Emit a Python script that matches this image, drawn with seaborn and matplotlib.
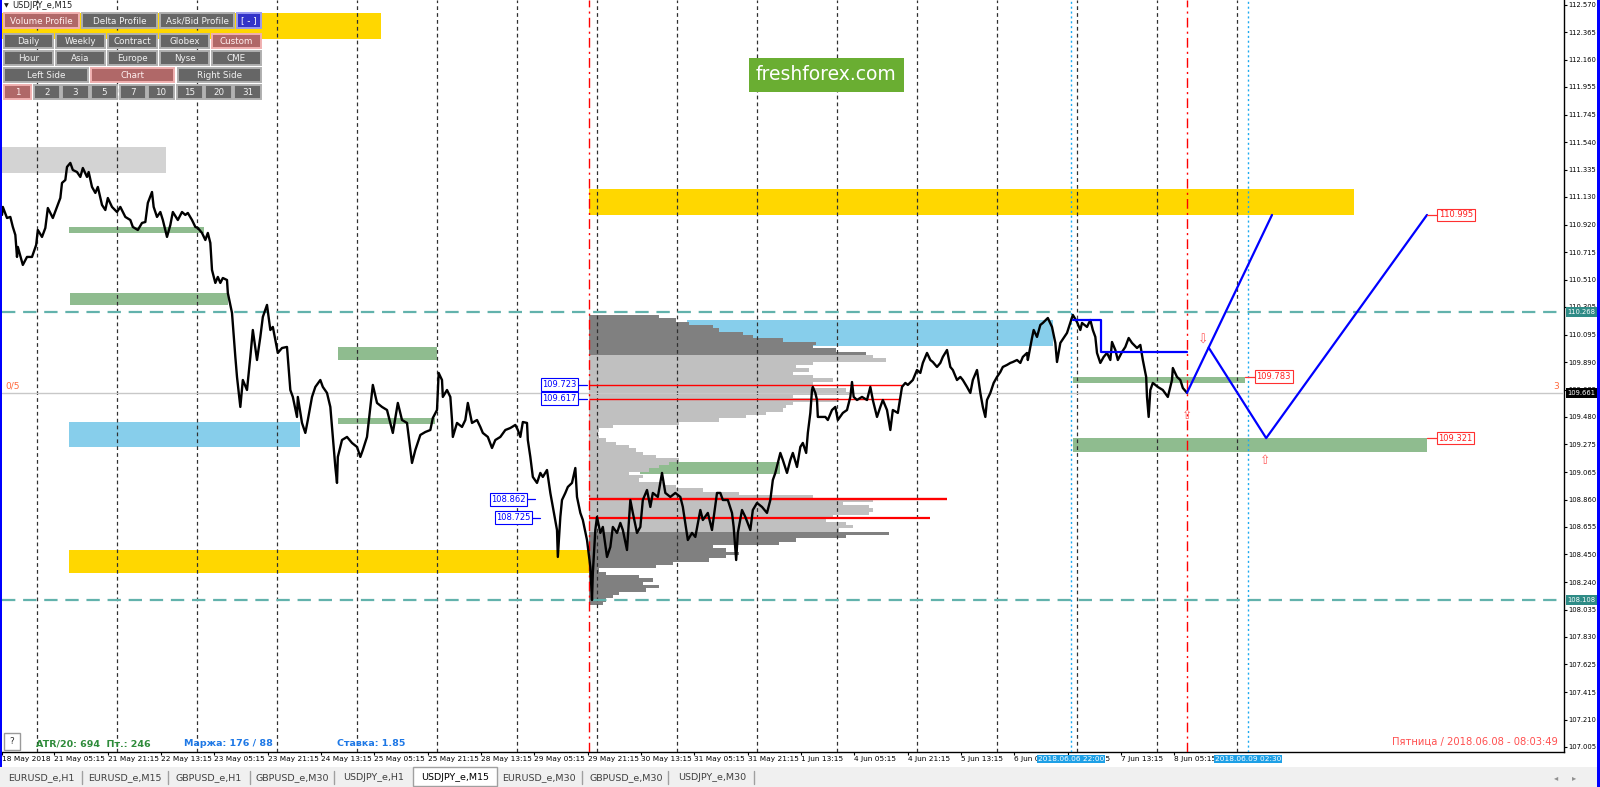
import numpy as np
import matplotlib
matplotlib.use("Agg")
import matplotlib.pyplot as plt
import seaborn as sns
from matplotlib.patches import Rectangle
from matplotlib.lines import Line2D
from matplotlib.transforms import blended_transform_factory

W, H = 1600, 787

# ---------------- price path (bar index of M15 bars, price) ----------------
seg1_bar = [0, 1, 6, 10, 13, 16, 18, 19, 25, 30, 36, 41, 43, 48, 52, 55, 61, 66, 70, 72,
            76, 78, 82, 85, 90, 94, 97, 102, 104, 108, 112, 115, 120, 124, 127, 132, 138, 142, 148, 154,
            157, 163, 168, 172, 175, 180, 182, 186, 190, 193, 198, 202, 205, 211, 216, 220, 223, 228, 232, 235,
            240, 244, 247, 250]
seg1_px = [110.995, 111.055, 110.972, 110.980, 110.905, 110.845, 110.680, 110.755, 110.620, 110.680,
           110.680, 110.770, 110.882, 110.830, 110.897, 111.047, 110.972, 111.055, 111.122, 111.235,
           111.257, 111.355, 111.385, 111.332, 111.317, 111.280, 111.347, 111.280, 111.317, 111.205,
           111.160, 111.205, 111.070, 111.032, 111.122, 111.055, 111.017, 111.055, 110.980, 110.957,
           110.905, 110.882, 110.935, 110.942, 111.085, 111.167, 111.055, 110.980, 111.017, 110.957,
           110.830, 110.920, 111.017, 110.957, 111.017, 110.995, 111.010, 110.957, 110.905, 110.897,
           110.860, 110.807, 110.860, 110.785]
seg2_bar = [252, 256, 259, 262, 265, 270, 271, 276, 280, 282, 286, 289, 294, 298, 301, 306, 310, 313, 318, 322,
            325, 331, 336, 342, 346, 349, 354, 355, 360, 364, 367, 372, 376, 382, 385, 390, 394, 397, 400, 402,
            403, 408, 414, 420, 426, 430, 433, 438, 442, 445, 450, 456, 462, 466, 469, 475, 480, 486, 492, 496]
seg2_px = [110.582, 110.485, 110.530, 110.485, 110.522, 110.507, 110.410, 110.260, 109.930, 109.780,
           109.555, 109.757, 109.682, 109.930, 110.132, 109.907, 110.080, 110.230, 110.320, 110.132,
           110.155, 109.960, 109.997, 110.005, 109.682, 109.630, 109.480, 109.630, 109.435, 109.360,
           109.457, 109.630, 109.705, 109.757, 109.705, 109.660, 109.555, 109.330, 109.105, 108.985,
           109.180, 109.307, 109.330, 109.285, 109.255, 109.180, 109.232, 109.330, 109.555, 109.720,
           109.585, 109.555, 109.532, 109.435, 109.360, 109.585, 109.457, 109.435, 109.135, 109.232]
seg3_bar = [502, 508, 514, 517, 522, 524, 528, 529, 534, 538, 540, 541, 546, 552, 556, 559, 564, 570, 574, 577,
            583, 588, 592, 598, 604, 610, 616, 619, 622, 625, 630, 631, 634, 637, 642, 646, 649, 654, 658, 661,
            666, 667, 670, 672, 676, 679, 684, 688, 690, 694, 697, 702, 706, 708, 709, 712]
seg3_px = [109.345, 109.367, 109.382, 109.472, 109.532, 109.810, 109.757, 109.630, 109.682, 109.630,
           109.457, 109.330, 109.435, 109.405, 109.457, 109.585, 109.435, 109.457, 109.405, 109.360,
           109.330, 109.247, 109.307, 109.330, 109.382, 109.397, 109.420, 109.382, 109.330, 109.442,
           109.435, 109.307, 109.180, 109.030, 108.985, 109.060, 109.030, 109.082, 108.910, 108.805,
           108.632, 108.430, 108.730, 108.857, 108.910, 108.955, 108.985, 109.097, 108.880, 108.760,
           108.707, 108.557, 108.355, 108.107, 108.310, 108.632]
seg4_bar = [714, 718, 721, 726, 730, 733, 738, 742, 745, 750, 754, 757, 762, 766, 769, 774, 778, 781, 787, 792,
            796, 802, 808, 814, 817, 823, 828, 832, 838, 841, 847, 852, 858, 862, 865, 871, 876, 878, 881, 883,
            888, 892, 898, 901, 906, 912, 918, 922, 925, 928, 931, 934, 937, 942, 946, 949, 954, 958, 961, 965,
            967, 970, 972, 973, 976, 978, 979, 984, 988, 991, 996, 1000, 1003, 1009, 1014, 1018, 1020, 1022, 1026, 1032,
            1038, 1042, 1045, 1050, 1054, 1057, 1062, 1066, 1069, 1075, 1080, 1084, 1087, 1093, 1098, 1102, 1105, 1110, 1114, 1117,
            1122, 1126, 1129, 1134, 1138, 1141, 1146, 1150, 1153, 1158, 1162, 1165, 1170, 1174, 1177, 1180, 1182, 1186, 1190, 1194,
            1198, 1201, 1206, 1210, 1213, 1218, 1222, 1225, 1230, 1231, 1236, 1238, 1242, 1246, 1249, 1255, 1260, 1264, 1266, 1270]
seg4_px = [108.730, 108.610, 108.655, 108.430, 108.505, 108.655, 108.610, 108.685, 108.632, 108.482,
           108.857, 108.760, 108.610, 108.655, 108.857, 108.932, 108.805, 108.910, 108.880, 109.060,
           108.910, 108.880, 108.910, 108.880, 108.805, 108.557, 108.610, 108.580, 108.782, 108.707,
           108.760, 108.632, 108.910, 108.910, 108.857, 108.857, 108.760, 108.655, 108.407, 108.610,
           108.782, 108.730, 108.632, 108.782, 108.835, 108.805, 108.760, 108.857, 109.007, 109.060,
           109.135, 109.210, 109.157, 109.060, 109.157, 109.210, 109.105, 109.255, 109.285, 109.210,
           109.360, 109.510, 109.682, 109.705, 109.660, 109.607, 109.480, 109.480, 109.480, 109.457,
           109.532, 109.555, 109.457, 109.510, 109.532, 109.630, 109.742, 109.630, 109.607, 109.630,
           109.607, 109.705, 109.607, 109.480, 109.555, 109.607, 109.532, 109.382, 109.532, 109.510,
           109.705, 109.735, 109.720, 109.757, 109.832, 109.810, 109.885, 109.960, 109.907, 109.892,
           109.855, 109.885, 109.930, 109.982, 109.855, 109.832, 109.757, 109.780, 109.757, 109.705,
           109.660, 109.757, 109.832, 109.660, 109.555, 109.480, 109.607, 109.660, 109.735, 109.780,
           109.817, 109.855, 109.870, 109.885, 109.892, 109.907, 109.885, 109.930, 109.960, 109.907,
           110.072, 110.132, 110.080, 110.170, 110.185, 110.222, 110.155, 110.035, 109.892, 110.035]
seg5_bar = [1278, 1285, 1290, 1294, 1296, 1302, 1306, 1309, 1312, 1314, 1318, 1322, 1326, 1330, 1332, 1336, 1339, 1344, 1348, 1352,
            1356, 1362, 1366, 1369, 1373, 1374, 1376, 1378, 1381, 1387, 1393, 1399, 1404, 1405, 1410, 1414, 1417, 1422]
seg5_px = [110.110, 110.245, 110.192, 110.132, 110.185, 110.155, 110.207, 110.132, 110.080, 109.960,
           109.885, 109.930, 109.960, 109.907, 110.042, 109.982, 109.907, 109.967, 110.005, 110.072,
           110.035, 109.997, 110.020, 109.907, 109.780, 109.630, 109.480, 109.682, 109.735, 109.705,
           109.682, 109.630, 109.757, 109.847, 109.780, 109.757, 109.697, 109.661]

# ---------------- volume profile (from 29 May 21:30, bar 704) ----------------
profile_start = 704
profile_top = 110.232
profile_step = 0.025
profile_len = [85, 105, 121, 149, 157, 185, 197, 233, 273, 269,
               297, 333, 341, 357, 269, 249, 265, 245, 269, 293,
               269, 269, 309, 313, 245, 301, 245, 237, 233, 213,
               189, 157, 109, 29, 13, 11, 13, 21, 33, 49,
               57, 65, 81, 109, 97, 85, 73, 49, 65, 61,
               89, 105, 137, 181, 269, 341, 305, 337, 341, 337,
               293, 285, 309, 317, 301, 361, 309, 249, 229, 149,
               165, 181, 165, 145, 101, 81, 13, 21, 61, 77,
               65, 85, 69, 37, 29, 21, 17]
va_high = 109.945
va_low = 108.62

# ---------------- zones (bar from, bar to, price low, price high, kind) ----------------
zone_x0 = [0, -5, 704, 80, 81, 82, 403, 403, 766, 1285, 1285, 80, 822]
zone_x1 = [197, 455, 1622, 704, 242, 271, 522, 520, 934, 1492, 1710, 358, 1261]
zone_lo = [111.310, 112.315, 110.995, 108.310, 110.860, 110.320, 109.907, 109.427, 109.052, 109.738, 109.216, 109.255, 110.012]
zone_hi = [111.505, 112.510, 111.190, 108.482, 110.905, 110.410, 110.005, 109.472, 109.142, 109.783, 109.321, 109.442, 110.207]
zone_kind = ["gray", "yellow", "yellow", "yellow", "green", "green", "green", "green", "green", "green", "green", "blue", "blue"]
zone_color = {"gray": "#D3D3D3", "yellow": "#FFD700", "green": "#8FBC8F", "blue": "#87CEEB"}

# levels
level_teal = [110.268, 108.108]
last_price = 109.661
poc_prices = [109.723, 109.617, 108.862, 108.725]
poc_end = [1081, 1076, 1134, 1114]
poc_width = [1.0, 1.0, 1.7, 1.6]
poc_box_end = [691, 691, 630, 636]
poc_link_end = [702, 702, 640, 646]

# projections
step_x = [1285, 1319, 1319, 1422]
step_y = [110.207, 110.207, 109.967, 109.967]
zig_a_x = [1422, 1524]
zig_a_y = [109.661, 110.995]
zig_b_x = [1448, 1517, 1710]
zig_b_y = [110.000, 109.321, 110.995]
target_labels = ["110.995", "109.783", "109.321"]
target_prices = [110.995, 109.783, 109.321]
target_from = [1710, 1492, 1710]
target_box = [1723, 1504, 1722]
arrow_bar = [1441, 1422, 1516]
arrow_price = [110.057, 109.494, 109.150]
arrow_glyph = ["\u21E9", "\u21E7", "\u21E7"]

# time axis
day_sep = [42, 138, 234, 330, 426, 522, 618, 714, 810, 906, 1002, 1098, 1194, 1290, 1386, 1482]
time_ticks = [0, 63, 127, 191, 255, 319, 383, 447, 511, 575, 639, 703, 767, 831, 895, 959, 1023,
              1087, 1151, 1215, 1279, 1343, 1407]
time_labels = ["18 May 2018", "21 May 05:15", "21 May 21:15", "22 May 13:15", "23 May 05:15",
               "23 May 21:15", "24 May 13:15", "25 May 05:15", "25 May 21:15", "28 May 13:15",
               "29 May 05:15", "29 May 21:15", "30 May 13:15", "31 May 05:15", "31 May 21:15",
               "1 Jun 13:15", "4 Jun 05:15", "4 Jun 21:15", "5 Jun 13:15", "6 Jun 05:15",
               "6 Jun 21:15", "7 Jun 13:15", "8 Jun 05:15"]
red_vlines = [704, 1422]
blue_vlines = [1283, 1495]
blue_vlabels = ["2018.06.06 22:00", "2018.06.09 02:30"]
price_ticks = [112.570, 112.365, 112.160, 111.955, 111.745, 111.540, 111.335, 111.130, 110.920,
               110.715, 110.510, 110.305, 110.095, 109.890, 109.685, 109.480, 109.275, 109.065,
               108.860, 108.655, 108.450, 108.240, 108.035, 107.830, 107.625, 107.415, 107.210, 107.005]

# ---------------- figure ----------------
sns.set_theme(style="white")
plt.rcParams['font.family'] = ['DejaVu Sans']

fig = plt.figure(figsize=(16, 7.87), dpi=100)
fig.patch.set_facecolor("white")
ax = fig.add_axes([2 / W, 35 / H, 1562 / W, 752 / H])
ax.set_facecolor("white")
ax.set_xlim(0, 1874.4)
ax.set_ylim(106.967, 112.607)

for x0, x1, lo, hi, k in zip(zone_x0, zone_x1, zone_lo, zone_hi, zone_kind):
    ax.add_patch(Rectangle((x0, lo), x1 - x0, hi - lo, facecolor=zone_color[k],
                           edgecolor="none", zorder=1))

levels = profile_top - profile_step * np.arange(len(profile_len))
pcols = ["#808080" if (lv > va_high or lv < va_low) else "#C0C0C0" for lv in levels]
ax.barh(levels, profile_len, left=profile_start, height=profile_step * 0.92, color=pcols,
        linewidth=0, zorder=2)

for d in day_sep:
    ax.axvline(d, color="#303030", lw=0.9, ls=(0, (3, 2.5)), zorder=3)
for t in level_teal:
    ax.axhline(t, color="#62B2AC", lw=1.6, ls=(0, (6, 3.5)), zorder=3)
ax.axhline(last_price, color="#C8C8C8", lw=1.0, zorder=3)
for v in red_vlines:
    ax.axvline(v, color="#FF0000", lw=1.0, ls=(0, (7, 3, 1.5, 3)), zorder=4)
for v in blue_vlines:
    ax.axvline(v, color="#1EAAF0", lw=1.0, ls=(0, (1.5, 2)), zorder=4)

ax.hlines(poc_prices, profile_start, poc_end, colors="#FF0000", linewidth=poc_width, zorder=5)

price_bar = seg1_bar + seg2_bar + seg3_bar + seg4_bar + seg5_bar
price_close = seg1_px + seg2_px + seg3_px + seg4_px + seg5_px
sns.lineplot(x=price_bar, y=price_close, ax=ax, color="black", linewidth=1.7,
             estimator=None, sort=False, zorder=6, legend=False)

ax.plot(step_x, step_y, color="#0000FF", lw=1.6, zorder=7)
ax.plot(zig_a_x, zig_a_y, color="#0000FF", lw=1.6, zorder=7)
ax.plot(zig_b_x, zig_b_y, color="#0000FF", lw=1.6, zorder=7)

# boxed labels on profile levels
for p, be, le in zip(poc_prices, poc_box_end, poc_link_end):
    ax.plot([be, le], [p, p], color="#0000FF", lw=0.9, zorder=7)
    ax.text(be - 1.5, p, f"{p:.3f}", ha="right", va="center", fontsize=6, color="#0000FF",
            bbox=dict(boxstyle="square,pad=0.2", fc="white", ec="#0000FF", lw=0.8), zorder=8)

for lab, p, fr, bx in zip(target_labels, target_prices, target_from, target_box):
    ax.plot([fr, bx], [p, p], color="#FF3030", lw=0.9, zorder=7)
    ax.text(bx + 1.5, p, lab, ha="left", va="center", fontsize=6, color="#FF2020",
            bbox=dict(boxstyle="square,pad=0.2", fc="white", ec="#FF3030", lw=0.8), zorder=8)

for bx, p, g in zip(arrow_bar, arrow_price, arrow_glyph):
    ax.text(bx, p, g, ha="center", va="center", fontsize=9, color="#FF5A5A", zorder=8)

# axes styling
ax.set_xlabel("")
ax.set_ylabel("")
for s in ["left", "top"]:
    ax.spines[s].set_visible(False)
for s in ["right", "bottom"]:
    ax.spines[s].set_color("black")
    ax.spines[s].set_linewidth(1.0)
ax.yaxis.tick_right()
ax.set_yticks(price_ticks)
ax.set_yticklabels([f"{v:.3f}" for v in price_ticks])
ax.tick_params(axis="y", which="both", right=True, left=False, length=2.5, width=0.8,
               color="black", labelsize=4.85, pad=0.8, labelcolor="black")
ax.set_xticks(time_ticks)
ax.set_xticklabels(time_labels, ha="left")
ax.tick_params(axis="x", bottom=True, length=2, width=0.8, color="black",
               labelsize=5.3, pad=1.0, labelcolor="black")
ax.grid(False)

ty = blended_transform_factory(ax.transAxes, ax.transData)
for p, fc in [(level_teal[0], "#2E8B86"), (last_price, "#000000"), (level_teal[1], "#2E8B86")]:
    ax.text(1.0022, p, f"{p:.3f}", transform=ty, ha="left", va="center", fontsize=4.85,
            color="white", bbox=dict(boxstyle="square,pad=0.28", fc=fc, ec="none"),
            clip_on=False, zorder=20)

tx = blended_transform_factory(ax.transData, ax.transAxes)
for v, lab in zip(blue_vlines, blue_vlabels):
    ax.text(v, -0.0098, lab, transform=tx, ha="center", va="center", fontsize=5.3,
            color="white", bbox=dict(boxstyle="square,pad=0.15", fc="#1EA0E6", ec="none"),
            clip_on=False, zorder=20)


# ---------------- terminal UI overlay (pixel layout) ----------------
def frect(x0, y0, x1, y1, fc, ec="none", lw=0, z=5):
    fig.add_artist(Rectangle((x0 / W, 1 - y1 / H), (x1 - x0) / W, (y1 - y0) / H,
                             transform=fig.transFigure, facecolor=fc, edgecolor=ec,
                             linewidth=lw, zorder=z))


def ftext(x, y, s, **kw):
    kw.setdefault("va", "center")
    kw.setdefault("zorder", 10)
    fig.text(x / W, 1 - y / H, s, **kw)


ftext(4, 6, "\u25BC", fontsize=4.5, color="#202020")
ftext(12, 6, "USDJPY_e,M15", fontsize=6, color="#202020")

styles = {"n": ("#666666", "#B0B0B0", "#F2F2F2"),
          "a": ("#B06868", "#F0B0B0", "#FFF0F0"),
          "b": ("#3434C8", "#9A9AF0", "#FFFFFF")}
buttons = [
    ("Volume Profile", 4, 79, 13, 28, "a"), ("Delta Profile", 82, 157, 13, 28, "n"),
    ("Ask/Bid Profile", 160, 234, 13, 28, "n"), ("[ - ]", 237, 261, 13, 28, "b"),
    ("Daily", 4, 53, 34, 48, "n"), ("Weekly", 56, 105, 34, 48, "n"), ("Contract", 108, 157, 34, 48, "n"),
    ("Globex", 160, 209, 34, 48, "n"), ("Custom", 212, 261, 34, 48, "a"),
    ("Hour", 4, 53, 51, 65, "n"), ("Asia", 56, 105, 51, 65, "n"), ("Europe", 108, 157, 51, 65, "n"),
    ("Nyse", 160, 209, 51, 65, "n"), ("CME", 212, 261, 51, 65, "n"),
    ("Left Side", 4, 88, 68, 82, "n"), ("Chart", 91, 174, 68, 82, "a"), ("Right Side", 178, 261, 68, 82, "n"),
    ("1", 4, 31, 85, 99, "a"), ("2", 34, 60, 85, 99, "n"), ("3", 62, 89, 85, 99, "n"),
    ("5", 91, 117, 85, 99, "n"), ("7", 120, 146, 85, 99, "n"), ("10", 148, 174, 85, 99, "n"),
    ("15", 177, 203, 85, 99, "n"), ("20", 205, 232, 85, 99, "n"), ("31", 234, 261, 85, 99, "n"),
]
for lab, x0, x1, y0, y1, st in buttons:
    fc, ec, tc = styles[st]
    frect(x0, y0, x1, y1, fc, ec=ec, lw=1.4, z=6)
    ftext((x0 + x1) / 2, (y0 + y1) / 2 + 0.5, lab, fontsize=6.3, color=tc, ha="center")

frect(749, 58, 904, 92, "#6AAE32", z=6)
ftext(826.5, 75, "freshforex.com", fontsize=13.5, color="white", ha="center")

ftext(5, 386, "0/5", fontsize=6.5, color="#FF6A3D")
ftext(1553, 386, "3", fontsize=6.5, color="#FF6A3D")

frect(4, 733, 20, 750, "white", ec="#9A9A9A", lw=1.0, z=6)
ftext(12, 741.5, "?", fontsize=6.5, color="#303030", ha="center")
ftext(36, 744, "ATR/20: 694  \u041F\u0442.: 246", fontsize=6.8, color="#2E8B3A", fontweight="bold")
ftext(184, 744, "\u041C\u0430\u0440\u0436\u0430: 176 / 88", fontsize=6.8, color="#1E78E6", fontweight="bold")
ftext(337, 744, "\u0421\u0442\u0430\u0432\u043A\u0430: 1.85", fontsize=6.8, color="#1E78E6", fontweight="bold")
ftext(1558, 742, "\u041F\u044F\u0442\u043D\u0438\u0446\u0430 / 2018.06.08 - 08:03:49",
      fontsize=7.2, color="#FF5050", ha="right")

# tab bar
frect(0, 767, 1600, 787, "#F0F0F0", z=4)
frect(413, 767, 497, 786, "white", ec="#A0A0A0", lw=1.0, z=5)
tab_names = ["EURUSD_e,H1", "EURUSD_e,M15", "GBPUSD_e,H1", "GBPUSD_e,M30", "USDJPY_e,H1",
             "USDJPY_e,M15", "EURUSD_e,M30", "GBPUSD_e,M30", "USDJPY_e,M30"]
tab_centers = [41, 125, 209, 292, 374, 455, 539, 626, 712]
for nm, cx in zip(tab_names, tab_centers):
    ftext(cx, 777.5, nm, fontsize=6.8, color="#000000" if nm == "USDJPY_e,M15" else "#404040",
          ha="center")
for sx in [82, 168, 250, 334, 582, 668, 754]:
    fig.add_artist(Line2D([sx / W, sx / W], [1 - 771 / H, 1 - 784 / H], transform=fig.transFigure,
                          color="#A0A0A0", lw=1.0, zorder=6))
ftext(1556, 778, "\u25C2", fontsize=6, color="#909090", ha="center")
ftext(1574, 778, "\u25B8", fontsize=6, color="#909090", ha="center")

# window borders
frect(0, 0, 2.2, 767, "#0000FF", z=30)
frect(1597, 0, 1600, 787, "#0000FF", z=30)

fig.savefig("out.png", dpi=100, facecolor="white")
